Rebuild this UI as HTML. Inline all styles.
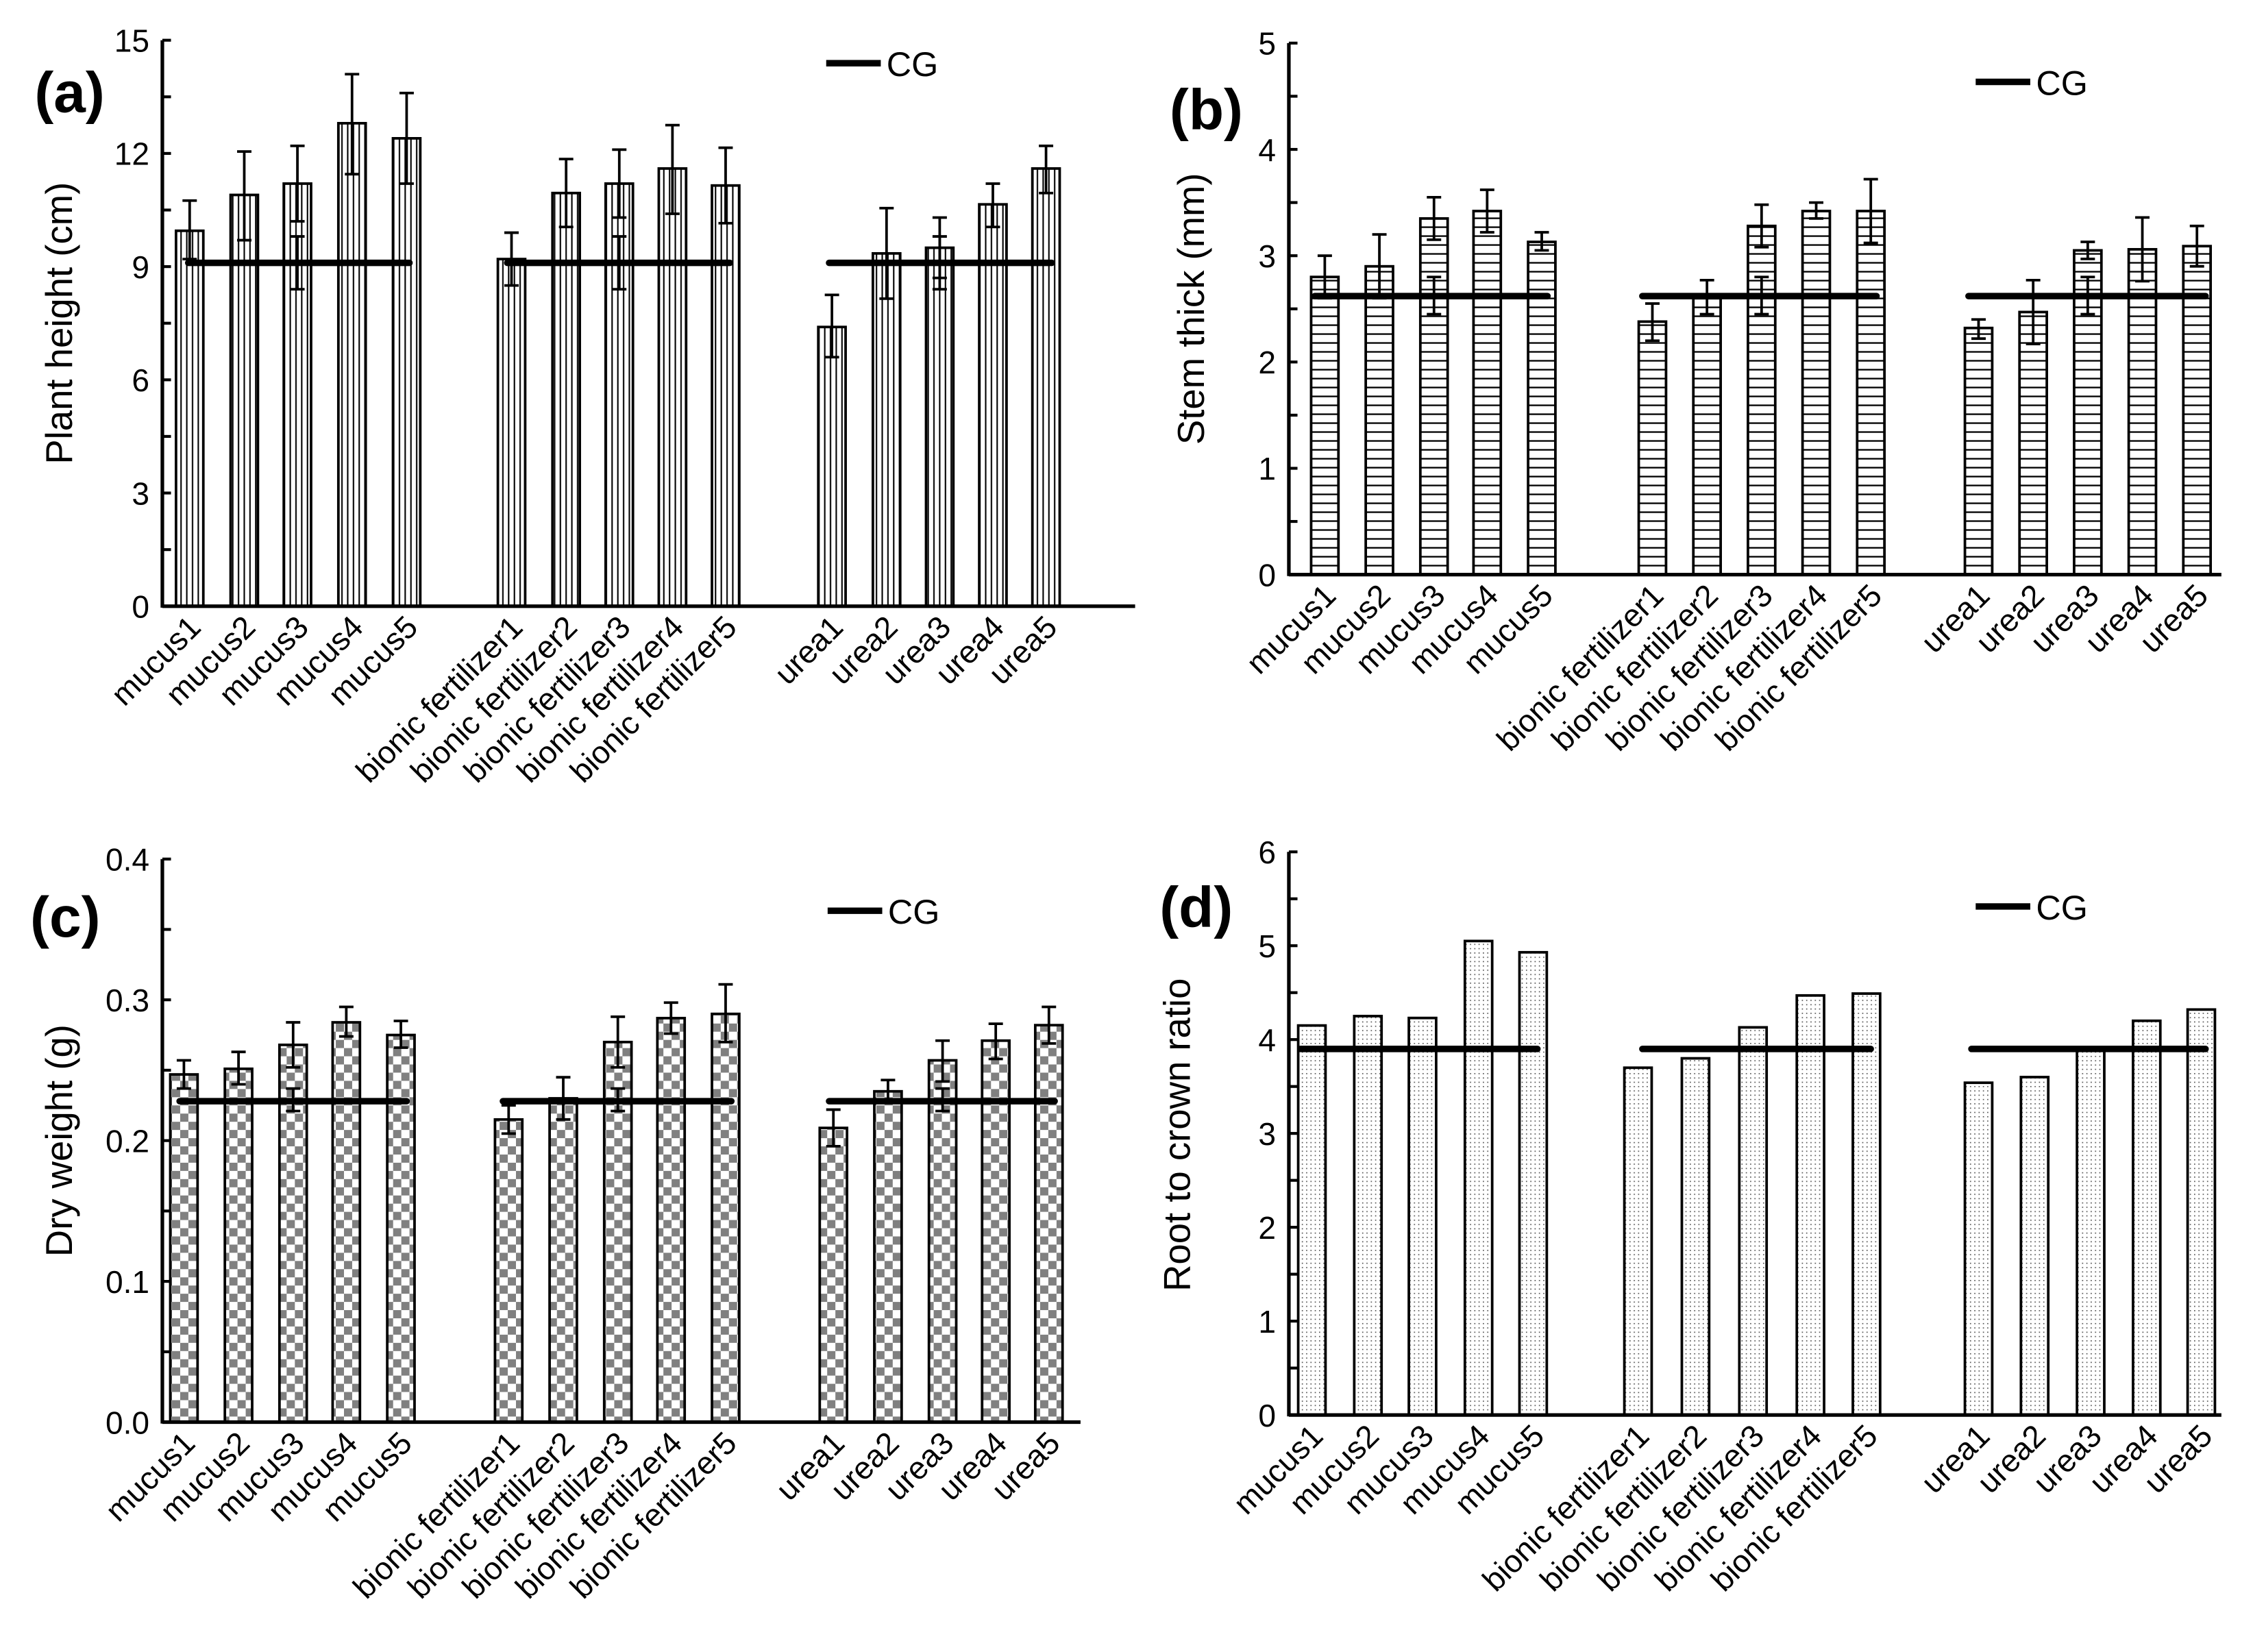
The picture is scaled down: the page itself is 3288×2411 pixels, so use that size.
<!DOCTYPE html>
<html><head><meta charset="utf-8"><style>html,body{margin:0;padding:0;background:#fff}svg{display:block}</style></head>
<body>
<svg id="s" xmlns="http://www.w3.org/2000/svg" width="3288" height="2411" viewBox="0 0 1568 1150" preserveAspectRatio="none" font-family="Liberation Sans, Arial, sans-serif">
<defs>
<pattern id="pa" width="4" height="4" patternUnits="userSpaceOnUse"><rect width="4" height="4" fill="#fff"/><rect x="1.5" width="1" height="4" fill="#000"/></pattern>
<pattern id="pb" width="4" height="6.2" patternUnits="userSpaceOnUse"><rect width="4" height="6.2" fill="#fff"/><rect y="2.6" width="4" height="1.1" fill="#000"/></pattern>
<pattern id="pc" width="11.4" height="11.4" patternUnits="userSpaceOnUse"><rect width="11.4" height="11.4" fill="#fff"/><rect width="5.7" height="5.7" fill="#808080"/><rect x="5.7" y="5.7" width="5.7" height="5.7" fill="#808080"/></pattern>
<pattern id="pd" width="3" height="3" patternUnits="userSpaceOnUse"><rect width="3" height="3" fill="#fff"/><rect width="0.8" height="0.8" fill="#555"/></pattern>
</defs>
<g id="g"></g>
</svg>
<script>
var g=document.getElementById('g'),h='';
var names=['mucus1','mucus2','mucus3','mucus4','mucus5','bionic fertilizer1','bionic fertilizer2','bionic fertilizer3','bionic fertilizer4','bionic fertilizer5','urea1','urea2','urea3','urea4','urea5'];
function panel(o){
 var y=function(v){return o.y0-(v/o.max)*(o.y0-o.top);};
 for(var i=0;i<15;i++){var c=o.cx[i],v=o.v[i],t=y(v);
  h+='<rect x="'+(c-9.5)+'" y="'+t+'" width="19" height="'+(o.y0-t)+'" fill="url(#'+o.pat+')" stroke="#000" stroke-width="1.8"/>';}
 var cy=y(o.cg);
 o.cgx.forEach(function(s){h+='<line x1="'+s[0]+'" x2="'+s[1]+'" y1="'+cy+'" y2="'+cy+'" stroke="#000" stroke-width="4.5" stroke-linecap="round"/>';});
 if(o.e){for(var i=0;i<15;i++){var c=o.cx[i],a=y(o.e[i][0]),b=y(o.e[i][1]);
  h+='<path d="M'+c+' '+a+'V'+b+'M'+(c-5)+' '+a+'H'+(c+5)+'M'+(c-5)+' '+b+'H'+(c+5)+'" stroke="#000" stroke-width="1.8" fill="none"/>';}
  [2,7,12].forEach(function(i){var c=o.cx[i],a=y(o.cge[0]),b=y(o.cge[1]);
  h+='<path d="M'+c+' '+a+'V'+b+'M'+(c-5)+' '+a+'H'+(c+5)+'M'+(c-5)+' '+b+'H'+(c+5)+'" stroke="#000" stroke-width="1.8" fill="none"/>';});}
 h+='<line x1="'+o.ax+'" x2="'+o.ax+'" y1="'+o.top+'" y2="'+(o.y0+1)+'" stroke="#000" stroke-width="2.5"/>';
 h+='<line x1="'+o.ax+'" x2="'+o.xend+'" y1="'+o.y0+'" y2="'+o.y0+'" stroke="#000" stroke-width="2.5"/>';
 var n=o.ticks.length-1;
 for(var k=0;k<=2*n;k++){var ty=o.y0-(o.y0-o.top)*k/(2*n);
  h+='<line x1="'+o.ax+'" x2="'+(o.ax+6)+'" y1="'+ty+'" y2="'+ty+'" stroke="#000" stroke-width="2"/>';}
 o.ticks.forEach(function(t,k){var ty=o.y0-(o.y0-o.top)*k/n;
  h+='<text x="'+(o.ax-9)+'" y="'+(ty+8)+'" font-size="22" text-anchor="end">'+t+'</text>';});
 for(var i=0;i<15;i++){var c=o.cx[i]+9,ly=o.y0+16;
  h+='<text transform="translate('+c+' '+ly+') rotate(-45)" font-size="22" text-anchor="end">'+names[i]+'</text>';}
 h+='<text transform="translate('+o.tx+' '+o.ty+') rotate(-90)" font-size="26" text-anchor="middle">'+o.title+'</text>';
 h+='<text x="'+o.lx+'" y="'+o.ly+'" font-size="40" font-weight="bold">'+o.lab+'</text>';
 h+='<line x1="'+o.gx+'" x2="'+(o.gx+38)+'" y1="'+o.gy+'" y2="'+o.gy+'" stroke="#000" stroke-width="4.5"/>';
 h+='<text x="'+(o.gx+42)+'" y="'+(o.gy+9)+'" font-size="24">CG</text>';
}
var cA=[132,170,207,245,283,356,394,431,468,505,579,617,654,691,728];
panel({ax:113,top:28,y0:422,max:15,xend:790,cx:cA,pat:'pa',ticks:[0,3,6,9,12,15],
 v:[9.95,10.9,11.2,12.8,12.4,9.2,10.95,11.2,11.6,11.15,7.4,9.35,9.5,10.65,11.6],
 e:[[9.2,10.75],[9.7,12.05],[10.2,12.2],[11.45,14.1],[11.2,13.6],[8.5,9.9],[10.05,11.85],[10.3,12.1],[10.4,12.75],[10.15,12.15],[6.6,8.25],[8.15,10.55],[8.7,10.3],[10.05,11.2],[10.95,12.2]],
 cg:9.1,cge:[8.4,9.8],cgx:[[131,285],[353,508],[577,732]],
 title:'Plant height (cm)',tx:50,ty:225,lab:'(a)',lx:24,ly:78,gx:575,gy:44});
var cB=[922,960,998,1035,1073,1150,1188,1226,1264,1302,1377,1415,1453,1491,1529];
panel({ax:897,top:30,y0:400,max:5,xend:1546,cx:cB,pat:'pb',ticks:[0,1,2,3,4,5],
 v:[2.8,2.9,3.35,3.42,3.13,2.38,2.6,3.28,3.42,3.42,2.32,2.47,3.05,3.06,3.09],
 e:[[2.6,3.0],[2.6,3.2],[3.15,3.55],[3.22,3.62],[3.05,3.22],[2.2,2.55],[2.45,2.77],[3.08,3.48],[3.35,3.5],[3.12,3.72],[2.22,2.4],[2.17,2.77],[2.97,3.13],[2.76,3.36],[2.9,3.28]],
 cg:2.62,cge:[2.45,2.8],cgx:[[915,1077],[1143,1306],[1370,1535]],
 title:'Stem thick (mm)',tx:838,ty:215,lab:'(b)',lx:814,ly:90,gx:1375,gy:57});
var cC=[128,166,204,241,279,354,392,430,467,505,580,618,656,693,730];
panel({ax:113,top:598,y0:990,max:0.4,xend:752,cx:cC,pat:'pc',ticks:['0.0','0.1','0.2','0.3','0.4'],
 v:[.247,.251,.268,.284,.275,.215,.23,.27,.287,.29,.209,.235,.257,.271,.282],
 e:[[.237,.257],[.24,.263],[.252,.284],[.274,.295],[.266,.285],[.205,.225],[.215,.245],[.252,.288],[.276,.298],[.27,.311],[.196,.222],[.228,.243],[.242,.271],[.258,.283],[.269,.295]],
 cg:.228,cge:[.221,.237],cgx:[[125,283],[350,509],[577,734]],
 title:'Dry weight (g)',tx:50,ty:794,lab:'(c)',lx:21,ly:652,gx:576,gy:634});
var cD=[913,952,990,1029,1067,1140,1180,1220,1260,1299,1377,1416,1455,1494,1532];
panel({ax:897,top:593,y0:985,max:6,xend:1546,cx:cD,pat:'pd',ticks:[0,1,2,3,4,5,6],
 v:[4.15,4.25,4.23,5.05,4.93,3.7,3.8,4.13,4.47,4.49,3.54,3.6,3.9,4.2,4.32],
 cg:3.9,cgx:[[905,1070],[1143,1302],[1372,1535]],
 title:'Root to crown ratio',tx:828,ty:790,lab:'(d)',lx:807,ly:645,gx:1375,gy:631});
g.innerHTML=h;
</script>
</body></html>
